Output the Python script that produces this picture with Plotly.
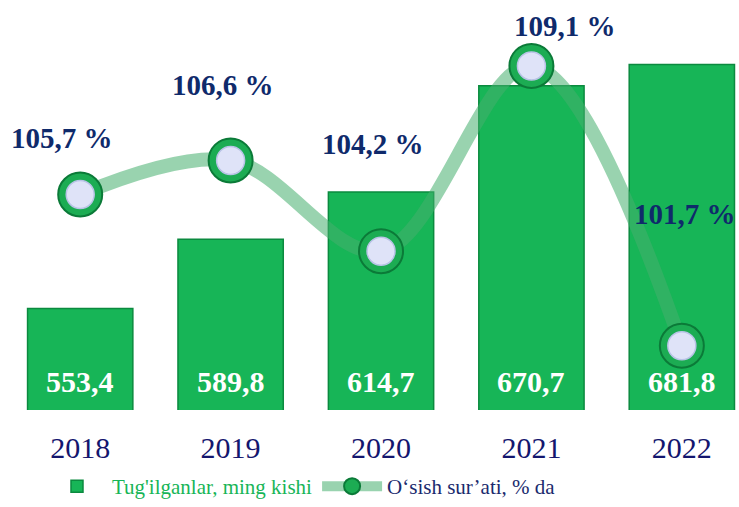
import plotly.graph_objects as go

# Data
years = ["2018", "2019", "2020", "2021", "2022"]
births = [553.4, 589.8, 614.7, 670.7, 681.8]          # Tug'ilganlar, ming kishi
growth = [105.7, 106.6, 104.2, 109.1, 101.7]           # O'sish sur'ati, % da

# Label offsets (px) for the growth-rate annotations
growth_label_dx = [-18, -8, -8, 34, 3]
growth_label_dy = [57, 75, 107, 40, 132]

SERIF = "Liberation Serif"
NAVY = "#0f2a6b"
GREEN = "#17b557"

fig = go.Figure()

fig.add_trace(go.Bar(
    x=years, y=births,
    name=f"<span style='color:{GREEN}'>Tug'ilganlar, ming kishi</span>",
    marker=dict(color=GREEN, line=dict(color="#0b8a3f", width=1.5)),
    width=0.7,
    hoverinfo="skip",
))

fig.add_trace(go.Scatter(
    x=years, y=growth, yaxis="y2",
    mode="lines+markers",
    name="<span style='color:#1a2a6e'>O‘sish sur’ati, % da</span>",
    line=dict(color="rgba(70,175,110,0.55)", width=14, shape="spline", smoothing=1.0),
    marker=dict(size=44, color="#1cac53", line=dict(color="#0b7a38", width=2)),
    hoverinfo="skip",
))

fig.add_trace(go.Scatter(
    x=years, y=growth, yaxis="y2",
    mode="markers", showlegend=False,
    marker=dict(size=28, color="#dfe3f8", line=dict(color="#b9c3e6", width=1.5)),
    hoverinfo="skip",
))

annotations = []
for i, v in enumerate(births):
    annotations.append(dict(
        x=i, y=500, xref="x", yref="y", yanchor="bottom",
        yshift=10, showarrow=False,
        text=f"<b>{v:.1f}</b>".replace(".", ","),
        font=dict(family=SERIF, size=30, color="white"),
    ))
for i, (v, dx, dy) in enumerate(zip(growth, growth_label_dx, growth_label_dy)):
    annotations.append(dict(
        x=i, y=v, xref="x", yref="y2",
        xshift=dx, yshift=dy, showarrow=False,
        text=f"<b>{v:.1f} %</b>".replace(".", ","),
        font=dict(family=SERIF, size=29, color=NAVY),
    ))

fig.update_layout(
    width=739, height=507,
    margin=dict(l=5, r=0, t=10, b=97, autoexpand=False),
    paper_bgcolor="white", plot_bgcolor="white",
    bargap=0.3,
    xaxis=dict(
        type="category", range=[-0.5, 4.38],
        showgrid=False, showline=False, zeroline=False, ticks="",
        tickfont=dict(family=SERIF, size=30, color="#14166e"),
        ticklabelstandoff=17,
    ),
    yaxis=dict(range=[500, 710.5], visible=False),
    yaxis2=dict(range=[100, 110.58], overlaying="y", visible=False),
    legend=dict(
        orientation="h", x=0.0504, xanchor="left", y=-0.2425, yanchor="bottom",
        font=dict(family=SERIF, size=21),
        itemwidth=60,
    ),
    annotations=annotations,
)

fig.write_html("out.html")
